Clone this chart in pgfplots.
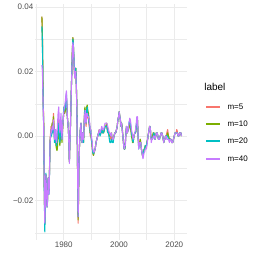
\documentclass[border=0pt]{standalone}
\usepackage{fontspec}
\setmainfont{Liberation Sans}
\usepackage{pgfplots}
\pgfplotsset{compat=1.18}
\usepackage{pgfplotstable}
\definecolor{colA}{HTML}{F8766D}
\definecolor{colB}{HTML}{7CAE00}
\definecolor{colC}{HTML}{00BFC4}
\definecolor{colD}{HTML}{C77CFF}
\definecolor{gridc}{HTML}{EBEBEB}
\definecolor{tickc}{HTML}{4D4D4D}

\pgfplotstableread{
year m5 m10 m20 m40
1972.10 0.037 0.037 0.034 0.022
1972.30 0.030 0.030 0.028 0.020
1972.55 0.012 0.011 0.010 0.009
1972.75 0.004 0.004 0.003 0.003
1972.95 -0.015 -0.015 -0.016 -0.014
1973.15 -0.027 -0.027 -0.0297 -0.027
1973.35 -0.020 -0.020 -0.021 -0.020
1973.55 -0.012 -0.012 -0.0115 -0.012
1973.75 -0.016 -0.016 -0.017 -0.017
1973.98 -0.021 -0.022 -0.022 -0.022
1974.15 -0.019 -0.019 -0.020 -0.020
1974.34 -0.013 -0.013 -0.013 -0.013
1974.50 -0.016 -0.016 -0.017 -0.017
1974.70 -0.016 -0.017 -0.018 -0.018
1974.90 -0.008 -0.009 -0.009 -0.009
1975.05 -0.001 -0.002 -0.002 -0.002
1975.25 0.001 0.000 0.000 0.000
1975.41 0.003 0.002 0.001 0.002
1975.60 0.001 0.001 0.000 0.001
1975.80 0.004 0.004 0.002 0.003
1976.00 0.003 0.003 0.001 0.002
1976.30 0.007 0.006 0.004 0.005
1976.50 0.003 0.002 0.001 0.002
1976.67 0.000 -0.001 -0.002 -0.001
1976.85 0.002 0.001 0.000 0.001
1977.00 0.002 0.002 0.001 0.002
1977.20 -0.002 -0.003 -0.002 -0.001
1977.40 -0.003 -0.004 -0.003 -0.002
1977.55 -0.002 -0.0045 -0.002 0.000
1977.70 0.000 -0.004 -0.001 0.003
1977.95 0.004 0.002 0.003 0.007
1978.20 0.005 0.003 0.004 0.009
1978.40 0.001 -0.001 0.000 0.004
1978.60 -0.002 -0.003 -0.002 0.001
1978.80 0.001 0.000 0.001 0.004
1979.00 0.004 0.003 0.004 0.007
1979.20 0.001 0.000 0.001 0.002
1979.35 -0.001 -0.002 -0.001 -0.001
1979.50 0.002 0.001 0.002 0.002
1979.70 0.004 0.003 0.004 0.004
1979.90 0.006 0.006 0.007 0.006
1980.07 0.009 0.008 0.009 0.008
1980.30 0.007 0.007 0.008 0.009
1980.60 0.008 0.008 0.009 0.011
1980.80 0.011 0.010 0.012 0.013
1980.97 0.012 0.011 0.013 0.014
1981.15 0.009 0.009 0.010 0.010
1981.30 0.006 0.006 0.006 0.006
1981.50 0.004 0.004 0.004 0.004
1981.70 0.002 0.002 0.002 0.002
1981.90 -0.004 -0.004 -0.004 -0.004
1982.04 -0.008 -0.008 -0.008 -0.0085
1982.20 -0.003 -0.003 -0.003 -0.003
1982.40 0.002 0.002 0.002 0.002
1982.60 0.009 0.009 0.009 0.009
1982.76 0.015 0.015 0.015 0.015
1982.95 0.021 0.021 0.021 0.020
1983.10 0.026 0.026 0.025 0.025
1983.30 0.0305 0.0305 0.030 0.029
1983.45 0.029 0.029 0.029 0.028
1983.66 0.024 0.024 0.025 0.024
1983.85 0.020 0.020 0.021 0.020
1984.00 0.018 0.018 0.019 0.018
1984.20 0.020 0.020 0.021 0.020
1984.37 0.021 0.021 0.021 0.020
1984.55 0.016 0.016 0.016 0.015
1984.73 0.010 0.010 0.010 0.009
1984.90 -0.002 -0.002 -0.002 -0.002
1985.02 -0.012 -0.012 -0.011 -0.011
1985.20 -0.027 -0.026 -0.025 -0.025
1985.35 -0.020 -0.020 -0.019 -0.019
1985.50 -0.010 -0.010 -0.010 -0.010
1985.65 -0.004 -0.004 -0.004 -0.004
1985.80 -0.001 -0.001 -0.001 -0.001
1986.00 0.002 0.002 0.002 0.002
1986.24 0.004 0.004 0.004 0.004
1986.40 0.000 0.000 0.000 0.000
1986.60 -0.002 -0.002 -0.002 -0.002
1986.75 0.001 0.001 0.001 0.001
1986.90 0.001 0.001 0.001 0.001
1987.05 -0.001 -0.001 -0.001 -0.001
1987.17 -0.002 -0.002 -0.002 -0.001
1987.35 0.003 0.003 0.003 0.003
1987.50 0.006 0.007 0.006 0.006
1987.65 0.008 0.009 0.008 0.007
1987.80 0.007 0.008 0.007 0.008
1988.00 0.004 0.005 0.005 0.004
1988.10 0.003 0.004 0.004 0.004
1988.30 0.007 0.009 0.008 0.007
1988.50 0.008 0.0096 0.009 0.007
1988.70 0.006 0.008 0.007 0.006
1988.96 0.005 0.007 0.006 0.006
1989.20 0.003 0.005 0.004 0.005
1989.40 0.002 0.003 0.003 0.004
1989.60 0.000 0.001 0.001 0.002
1989.75 0.001 0.002 0.002 0.002
1990.00 -0.001 -0.001 -0.001 0.000
1990.20 -0.003 -0.002 -0.002 -0.001
1990.50 -0.005 -0.005 -0.005 -0.004
1990.75 -0.006 -0.006 -0.0055 -0.005
1991.00 -0.005 -0.005 -0.005 -0.005
1991.36 -0.004 -0.004 -0.004 -0.004
1991.70 -0.002 -0.002 -0.002 -0.002
1991.97 -0.001 -0.001 -0.001 -0.001
1992.30 0.000 0.000 0.000 0.000
1992.60 0.001 0.001 0.001 0.001
1992.90 0.002 0.002 0.001 0.002
1993.15 0.001 0.001 0.000 0.001
1993.50 0.001 0.001 0.001 0.002
1993.76 0.002 0.002 0.002 0.003
1994.10 0.001 0.001 0.001 0.002
1994.40 0.001 0.001 0.001 0.002
1994.70 0.002 0.002 0.002 0.003
1994.95 0.003 0.003 0.003 0.004
1995.20 0.003 0.003 0.003 0.004
1995.56 0.003 0.004 0.003 0.004
1995.90 0.001 0.002 0.001 0.003
1996.20 0.001 0.001 0.001 0.002
1996.50 0.000 0.000 -0.001 0.001
1996.70 0.000 0.000 -0.002 0.001
1997.00 -0.001 0.000 -0.002 0.000
1997.27 0.000 0.001 -0.001 0.001
1997.60 -0.001 -0.001 -0.002 -0.001
1997.90 -0.001 -0.001 -0.002 -0.001
1998.20 0.000 0.000 0.000 0.000
1998.50 0.001 0.001 0.001 0.001
1998.80 0.001 0.001 0.001 0.001
1999.10 0.002 0.002 0.002 0.002
1999.35 0.003 0.003 0.003 0.003
1999.60 0.005 0.005 0.005 0.005
1999.85 0.006 0.006 0.006 0.006
2000.07 0.0075 0.0075 0.0075 0.0075
2000.30 0.006 0.006 0.006 0.006
2000.50 0.005 0.005 0.005 0.005
2000.70 0.003 0.003 0.003 0.003
2000.93 0.004 0.004 0.004 0.004
2001.15 0.002 0.003 0.002 0.002
2001.40 0.000 0.000 0.000 0.000
2001.60 -0.002 -0.002 -0.002 -0.002
2001.86 -0.004 -0.004 -0.004 -0.004
2002.10 -0.004 -0.004 -0.004 -0.003
2002.30 -0.002 -0.002 -0.002 -0.003
2002.50 0.001 0.001 0.001 0.001
2002.72 0.003 0.003 0.003 0.003
2003.00 0.001 0.001 0.001 0.001
2003.30 0.002 0.002 0.002 0.002
2003.60 0.003 0.003 0.004 0.004
2003.90 0.004 0.004 0.005 0.0055
2004.10 0.003 0.002 0.004 0.005
2004.27 0.003 0.002 0.003 0.004
2004.50 0.001 0.000 0.001 0.002
2004.73 0.000 -0.001 0.000 0.001
2004.90 -0.001 -0.002 -0.001 0.000
2005.10 -0.002 -0.002 -0.002 -0.001
2005.40 0.000 0.000 0.000 0.000
2005.70 0.001 0.001 0.001 0.001
2006.00 0.001 0.001 0.001 0.002
2006.24 0.003 0.003 0.003 0.004
2006.45 0.004 0.004 0.005 0.006
2006.67 0.005 0.005 0.005 0.006
2006.90 0.000 0.000 0.000 0.000
2007.13 -0.003 -0.003 -0.004 -0.004
2007.30 -0.003 -0.003 -0.003 -0.003
2007.50 -0.002 -0.002 -0.002 -0.002
2007.70 -0.001 -0.001 -0.002 -0.002
2007.85 -0.002 -0.002 -0.002 -0.002
2008.10 -0.004 -0.004 -0.004 -0.004
2008.30 -0.005 -0.005 -0.005 -0.005
2008.50 -0.006 -0.006 -0.006 -0.006
2008.67 -0.006 -0.006 -0.006 -0.007
2008.90 -0.005 -0.005 -0.005 -0.006
2009.10 -0.004 -0.004 -0.004 -0.005
2009.28 -0.004 -0.004 -0.004 -0.005
2009.50 -0.003 -0.003 -0.003 -0.004
2009.70 -0.003 -0.003 -0.003 -0.004
2009.90 -0.003 -0.003 -0.003 -0.004
2010.10 -0.002 -0.002 -0.002 -0.003
2010.36 -0.001 -0.001 -0.001 -0.001
2010.50 0.000 0.000 0.000 0.000
2010.70 0.001 0.001 0.001 0.001
2010.90 0.002 0.002 0.002 0.002
2011.07 0.003 0.003 0.003 0.003
2011.20 0.003 0.003 0.003 0.003
2011.36 0.002 0.002 0.002 0.002
2011.50 0.000 0.000 0.000 0.000
2011.68 -0.001 -0.001 -0.001 -0.002
2011.90 -0.001 -0.001 -0.001 -0.001
2012.15 0.000 0.000 -0.001 -0.001
2012.40 0.001 0.001 0.000 0.000
2012.60 0.001 0.001 0.001 0.000
2012.80 0.000 0.000 0.000 0.000
2013.05 -0.001 -0.001 -0.001 -0.001
2013.30 0.000 0.000 0.000 0.000
2013.50 0.001 0.001 0.001 0.001
2013.80 0.001 0.001 0.001 0.001
2014.05 0.000 0.000 0.000 0.000
2014.30 -0.001 -0.001 -0.001 -0.001
2014.66 -0.001 -0.001 -0.001 -0.001
2014.85 0.000 0.000 0.000 0.000
2015.00 0.000 0.000 0.000 0.000
2015.25 0.001 0.001 0.001 0.001
2015.50 0.001 0.001 0.001 0.001
2015.80 0.000 0.000 0.000 0.000
2016.00 -0.001 -0.001 -0.001 -0.001
2016.20 -0.002 -0.002 -0.002 -0.002
2016.40 -0.001 -0.001 -0.001 -0.001
2016.60 -0.001 -0.001 -0.001 -0.001
2016.85 0.000 0.000 0.000 0.000
2017.06 0.000 0.000 0.000 0.000
2017.30 0.001 0.000 0.000 -0.001
2017.60 0.002 0.001 0.000 -0.001
2017.90 0.000 0.000 -0.001 -0.001
2018.24 -0.001 -0.001 -0.001 -0.002
2018.50 -0.001 -0.001 -0.001 -0.001
2018.78 -0.001 -0.001 -0.001 -0.001
2019.10 -0.002 -0.002 -0.002 -0.002
2019.40 -0.002 -0.002 -0.002 -0.002
2019.70 -0.001 -0.001 -0.001 -0.001
2020.00 0.000 0.000 0.000 0.000
2020.30 0.001 0.001 0.001 0.001
2020.65 0.001 0.001 0.001 0.001
2020.90 0.002 0.001 0.001 0.001
2021.10 0.0015 0.001 0.001 0.001
2021.40 0.000 0.000 0.000 0.000
2021.65 0.000 0.000 0.000 0.000
2022.00 0.001 0.001 0.001 0.001
2022.37 0.001 0.001 0.001 0.001
2022.60 0.000 0.000 0.000 0.000
}\data

\begin{document}
\begin{tikzpicture}
\path[use as bounding box] (-35pt,-23pt) rectangle (228pt,240pt);
\begin{axis}[
  at={(0,0)}, anchor=south west,
  scale only axis, width=152pt, height=236pt,
  xmin=1969.6, xmax=2024.6, ymin=-0.0322, ymax=0.0409,
  clip=false,
  scaled y ticks=false, scaled x ticks=false,
  axis line style={draw=none},
  major tick length=0pt, minor tick length=0pt,
  xtick={1980,2000,2020}, xticklabels={1980,2000,2020},
  minor xtick={1970,1990,2010},
  ytick={-0.02,0,0.02,0.04}, yticklabels={−0.02,0.00,0.02,0.04},
  minor ytick={-0.03,-0.01,0.01,0.03},
  grid=both,
  major grid style={draw=gridc, line width=0.7pt},
  minor grid style={draw=gridc, line width=0.35pt},
  ticklabel style={font=\fontsize{8}{9}\selectfont, text=tickc},
  yticklabel style={inner sep=1.5pt},
  xticklabel style={inner sep=2pt},
  every axis plot/.append style={line width=1.1pt, line join=round},
]
\addplot[color=colA, no marks] table[x=year, y=m5] {\data};
\addplot[color=colB, no marks] table[x=year, y=m10] {\data};
\addplot[color=colC, no marks] table[x=year, y=m20] {\data};
\addplot[color=colD, no marks] table[x=year, y=m40] {\data};
% legend keys
\addplot[color=colA, no marks, line width=1.1pt] coordinates {(2031.5,0.0090) (2036.5,0.0090)};
\addplot[color=colB, no marks, line width=1.1pt] coordinates {(2031.5,0.00374) (2036.5,0.00374)};
\addplot[color=colC, no marks, line width=1.1pt] coordinates {(2031.5,-0.00153) (2036.5,-0.00153)};
\addplot[color=colD, no marks, line width=1.1pt] coordinates {(2031.5,-0.00711) (2036.5,-0.00711)};
\node[anchor=west, font=\fontsize{8}{9}\selectfont, inner sep=0pt] at (axis cs:2039.2,0.0090) {m=5};
\node[anchor=west, font=\fontsize{8}{9}\selectfont, inner sep=0pt] at (axis cs:2039.2,0.00374) {m=10};
\node[anchor=west, font=\fontsize{8}{9}\selectfont, inner sep=0pt] at (axis cs:2039.2,-0.00153) {m=20};
\node[anchor=west, font=\fontsize{8}{9}\selectfont, inner sep=0pt] at (axis cs:2039.2,-0.00711) {m=40};
\node[anchor=west, font=\fontsize{10}{12}\selectfont, inner sep=0pt] at (axis cs:2030.8,0.0152) {label};
\end{axis}
\end{tikzpicture}
\end{document}
